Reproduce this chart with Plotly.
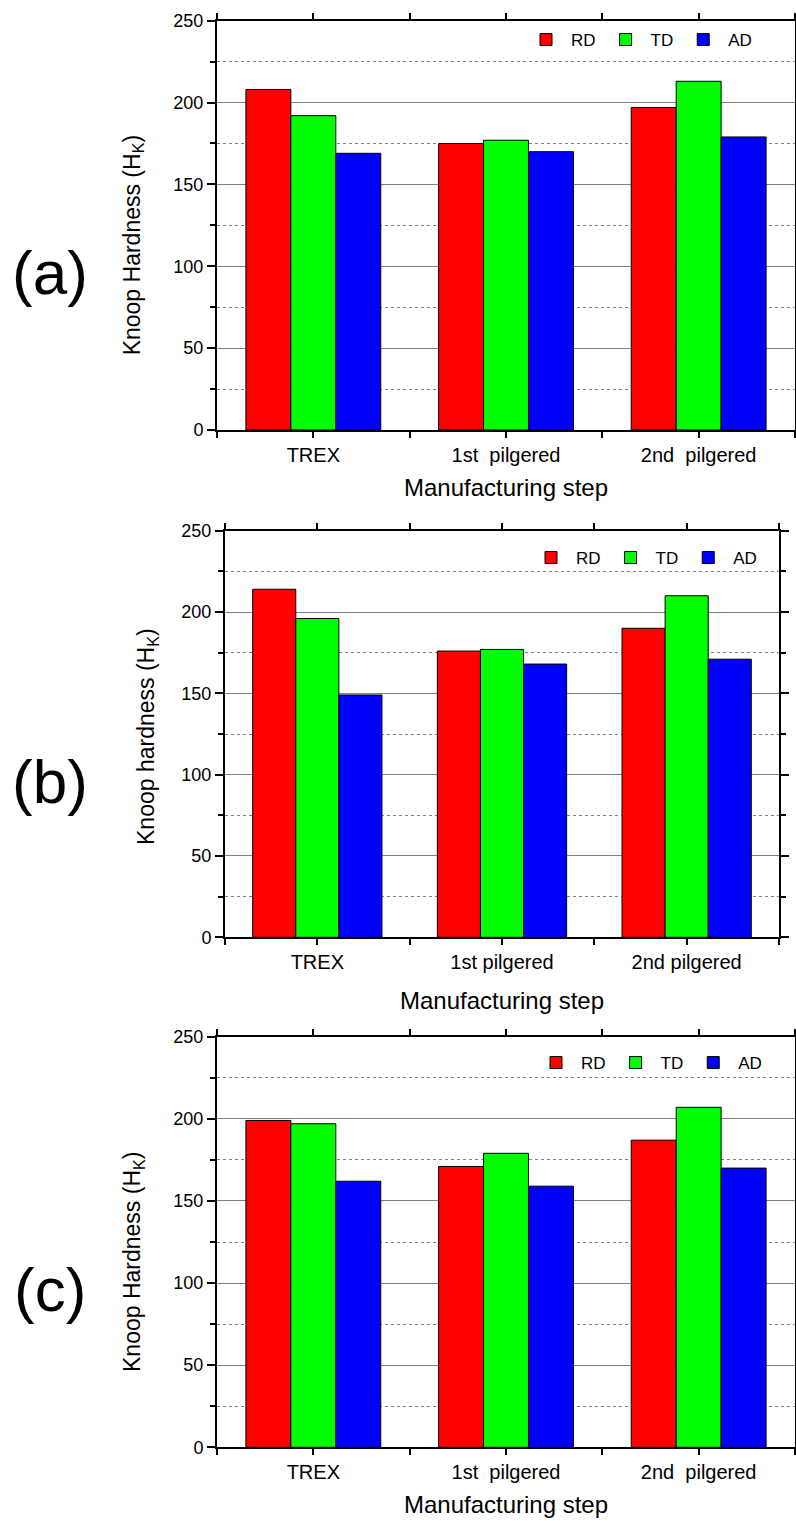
import plotly.graph_objects as go

steps_ac = ["TREX", "1st\u00a0 pilgered", "2nd\u00a0 pilgered"]
steps_b = ["TREX", "1st pilgered", "2nd pilgered"]
series = ["RD", "TD", "AD"]
colors = ["#FF0000", "#00FF00", "#0000FF"]

# Panel (a)
a_RD = [208, 175, 197]
a_TD = [192, 177, 213]
a_AD = [169, 170, 179]
# Panel (b)
b_RD = [214, 176, 190]
b_TD = [196, 177, 210]
b_AD = [149, 168, 171]
# Panel (c)
c_RD = [199, 171, 187]
c_TD = [197, 179, 207]
c_AD = [162, 159, 170]

y_ticks = [0, 50, 100, 150, 200, 250]
panel_labels = ["(a)", "(b)", "(c)"]
y_titles = ["Knoop Hardness (H<sub>K</sub>)", "Knoop hardness (H<sub>K</sub>)", "Knoop Hardness (H<sub>K</sub>)"]
x_title = "Manufacturing step"

W, H = 796, 1521
FONT = "Liberation Sans, Arial, sans-serif"

panels = [
    dict(vals=[a_RD, a_TD, a_AD], cats=steps_ac, x0=217, x1=795, y0=20.7, y1=430, leg_x=757, leg_y=22),
    dict(vals=[b_RD, b_TD, b_AD], cats=steps_b, x0=225, x1=779, y0=530.7, y1=937.3, leg_x=762, leg_y=540),
    dict(vals=[c_RD, c_TD, c_AD], cats=steps_ac, x0=217, x1=795, y0=1036.7, y1=1447.3, leg_x=767, leg_y=1045),
]

fig = go.Figure()
layout = dict(
    width=W, height=H, margin=dict(l=0, r=0, t=0, b=0, autoexpand=False),
    plot_bgcolor="white", paper_bgcolor="white",
    barmode="group", bargap=0.3, bargroupgap=0,
    font=dict(family=FONT, color="black"),
    annotations=[],
)

for i, p in enumerate(panels):
    sfx = "" if i == 0 else str(i + 1)
    leg = "legend" + sfx
    xs = list(range(len(p["cats"])))
    for s, name in enumerate(series):
        fig.add_trace(go.Bar(
            x=xs, y=p["vals"][s], name=name,
            marker=dict(color=colors[s], line=dict(color="black", width=1)),
            xaxis="x" + sfx, yaxis="y" + sfx, legend=leg,
        ))
    layout["xaxis" + sfx] = dict(
        domain=[p["x0"] / W, p["x1"] / W], anchor="y" + sfx,
        range=[-0.5, 2.5], tickmode="array", tickvals=xs, ticktext=p["cats"],
        ticks="outside", ticklen=6, tickwidth=2, tickcolor="black",
        minor=dict(tickmode="array", tickvals=[-0.5, 0.5, 1.5, 2.5],
                   ticks="outside", ticklen=6, tickwidth=2, tickcolor="black",
                   showgrid=False),
        showline=True, linecolor="black", linewidth=2, mirror="ticks",
        showgrid=False, zeroline=False, automargin=False,
        tickfont=dict(size=20, family=FONT),
        title=dict(text=x_title, font=dict(size=24, family=FONT), standoff=14 if i != 1 else 20),
    )
    layout["yaxis" + sfx] = dict(
        domain=[1 - p["y1"] / H, 1 - p["y0"] / H], anchor="x" + sfx,
        range=[0, 250], tickmode="array", tickvals=y_ticks,
        ticks="outside", ticklen=8, tickwidth=2, tickcolor="black",
        showline=True, linecolor="black", linewidth=2, mirror="ticks",
        showgrid=True, gridcolor="#808080", gridwidth=1.3, zeroline=False,
        automargin=False,
        tickfont=dict(size=18, family=FONT),
        minor=dict(tickmode="array", tickvals=[25, 75, 125, 175, 225],
                   ticks="outside", ticklen=5, tickwidth=1.5, tickcolor="black",
                   showgrid=True, gridcolor="#808080", gridwidth=1, griddash="dot"),
    )
    layout[leg] = dict(
        orientation="h", x=p["leg_x"] / W, xanchor="right",
        y=1 - p["leg_y"] / H, yanchor="top",
        bgcolor="rgba(0,0,0,0)", font=dict(size=17, family=FONT),
        itemwidth=40, tracegroupgap=0,
    )
    ymid = (p["y0"] + p["y1"]) / 2
    ytitle_x = 133 if i != 1 else 147
    ytitle_dy = 20 if i != 1 else 3
    layout["annotations"].append(dict(
        text=y_titles[i], xref="paper", yref="paper",
        x=ytitle_x / W, y=1 - (ymid + ytitle_dy) / H, textangle=-90,
        showarrow=False, font=dict(size=23, family=FONT),
        xanchor="center", yanchor="middle",
    ))
    layout["annotations"].append(dict(
        text=panel_labels[i], xref="paper", yref="paper",
        x=50 / W, y=1 - (ymid + 47) / H, showarrow=False,
        font=dict(size=62, family=FONT), xanchor="center", yanchor="middle",
    ))

fig.update_layout(**layout)
fig.write_html(
    "out.html",
    config={"displayModeBar": False},
    post_script="document.body.style.margin='0px';document.body.style.overflow='hidden';",
)
